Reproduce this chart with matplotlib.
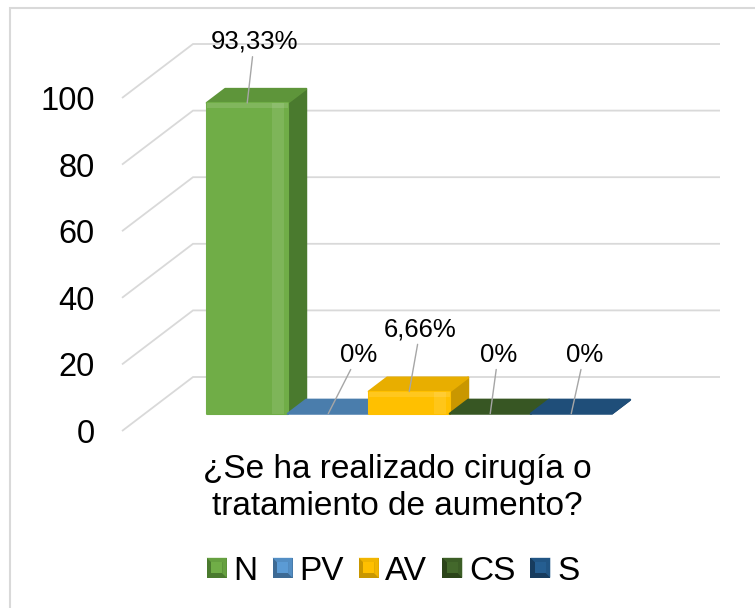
import matplotlib
matplotlib.use("Agg")
import matplotlib.pyplot as plt
from matplotlib.patches import Polygon, Rectangle, Patch
from matplotlib.legend_handler import HandlerBase

plt.rcParams['font.family'] = ['Liberation Sans', 'DejaVu Sans']

# ---------------- data ----------------
categories = ['N', 'PV', 'AV', 'CS', 'S']
values = [93.33, 0, 6.66, 0, 0]
value_labels = ['93,33%', '0%', '6,66%', '0%', '0%']
yticks = [0, 20, 40, 60, 80, 100]
title = '¿Se ha realizado cirugía o\ntratamiento de aumento?'

# ---------------- styles ----------------
front_colors = ['#70AD47', '#5B9BD5', '#FFC000', '#43682B', '#255E91']
top_colors = ['#5E953A', '#4A7DAC', '#E8AE00', '#375623', '#1F4E79']
side_colors = ['#4A7A2E', '#3D6A94', '#C99700', '#2B4419', '#173C5E']
label_offsets_px = [(7, 61), (30, 59), (11, 62), (8, 59), (13, 59)]
grid_color = '#D9D9D9'

W, H = 755, 608
fig = plt.figure(figsize=(W / 100, H / 100), dpi=100)
fig.patch.set_facecolor('white')

# layout of the front plane (pixels)
L_px, Y0_px, R_px = 122, 431, 720
scale = 3.33          # px per value unit
bar_w_px = 81         # px per category
bar_start_px = 184
DX = 71 / bar_w_px    # depth shift in x (data units)
DY = 54 / scale       # depth shift in y (data units)
d0, d1 = 0.32, 0.58   # bar depth range

ax = fig.add_axes([L_px / W, 1 - Y0_px / H, (R_px - L_px) / W, 100 * scale / H])
ax.set_xlim(-(bar_start_px - L_px) / bar_w_px, (R_px - bar_start_px) / bar_w_px)
ax.set_ylim(0, 100)
for sp in ax.spines.values():
    sp.set_visible(False)
ax.set_xticks([])
ax.set_yticks(yticks)
ax.set_yticklabels([str(t) for t in yticks])
ax.tick_params(axis='y', length=0, pad=19.5, labelsize=23.5, labelcolor='black')
ax.patch.set_alpha(0)

xmin, xmax = ax.get_xlim()

# gridlines (floor-to-back-wall)
for v in yticks:
    ax.plot([xmin, xmin + DX, xmax], [v, v + DY, v + DY], color=grid_color,
            lw=1.3, clip_on=False, zorder=1, solid_capstyle='butt',
            solid_joinstyle='miter')

# bars
ox = (d1 - d0) * DX
oy = (d1 - d0) * DY
b0 = d0 * DY
for i, v in enumerate(values):
    x0 = i + d0 * DX
    x1 = i + 1 + d0 * DX
    z = 3 + i * 3
    kw = dict(clip_on=False, joinstyle='round', lw=1.5)
    side = Polygon([(x1, b0), (x1 + ox, b0 + oy), (x1 + ox, b0 + oy + v), (x1, b0 + v)],
                   closed=True, facecolor=side_colors[i], edgecolor=side_colors[i],
                   zorder=z, **kw)
    top = Polygon([(x0, b0 + v), (x1, b0 + v), (x1 + ox, b0 + oy + v), (x0 + ox, b0 + oy + v)],
                  closed=True, facecolor=top_colors[i], edgecolor=top_colors[i],
                  zorder=z + 1, **kw)
    ax.add_patch(side)
    ax.add_patch(top)
    if v > 0:
        front = Polygon([(x0, b0), (x1, b0), (x1, b0 + v), (x0, b0 + v)],
                        closed=True, facecolor=front_colors[i], edgecolor=front_colors[i],
                        zorder=z + 2, **kw)
        ax.add_patch(front)
        # bevel highlights
        ax.add_patch(Rectangle((x0 + 0.80, b0), 0.15, v, facecolor='white', alpha=0.10,
                               edgecolor='none', zorder=z + 2.5, clip_on=False))
        ax.add_patch(Rectangle((x0, b0 + v - min(1.5, v * 0.3)), 1.0, min(1.5, v * 0.3),
                               facecolor='white', alpha=0.12, edgecolor='none',
                               zorder=z + 2.5, clip_on=False))

# data labels with leader lines
for i, (v, lab) in enumerate(zip(values, value_labels)):
    dx, dy = label_offsets_px[i]
    ax.annotate(lab, xy=(i + 0.5 + d0 * DX, v + b0), xycoords='data',
                xytext=(dx * 0.72, dy * 0.72), textcoords='offset points',
                ha='center', va='center', fontsize=18.5, color='black',
                annotation_clip=False, zorder=40,
                arrowprops=dict(arrowstyle='-', color='#A6A6A6', lw=1.0,
                                shrinkA=0, shrinkB=0))

# title (category axis label)
fig.text(397 / W, 1 - 488 / H, title, ha='center', va='center', fontsize=24,
         linespacing=1.25, color='black')


# legend with bevelled squares
class BevelHandler(HandlerBase):
    def create_artists(self, legend, orig_handle, xdescent, ydescent, width, height,
                       fontsize, trans):
        s = min(width, height)
        x0 = -xdescent + (width - s) / 2
        y0 = -ydescent + (height - s) / 2
        fc = orig_handle.get_facecolor()
        ec = orig_handle.get_edgecolor()
        inset = s * 0.22
        outer = Rectangle((x0, y0), s, s, facecolor=ec, edgecolor='none', transform=trans)
        bevel = Polygon([(x0, y0 + s), (x0 + s, y0 + s), (x0 + s, y0),
                         (x0 + s - inset, y0 + inset), (x0 + s - inset, y0 + s - inset),
                         (x0 + inset, y0 + s - inset)], closed=True,
                        facecolor=fc, edgecolor='none', alpha=0.75, transform=trans)
        inner = Rectangle((x0 + inset, y0 + inset), s - 2 * inset, s - 2 * inset,
                          facecolor=fc, edgecolor='none', transform=trans)
        return [outer, bevel, inner]


handles = [Patch(facecolor=front_colors[i], edgecolor=side_colors[i], label=c)
           for i, c in enumerate(categories)]
fig.legend(handles=handles, labels=categories, loc='center',
           bbox_to_anchor=(393 / W, 1 - 571 / H), ncol=5, frameon=False,
           fontsize=24, handlelength=0.6, handleheight=0.6, handletextpad=0.2,
           columnspacing=0.45, borderpad=0,
           handler_map={Patch: BevelHandler()})

# chart-area border (left and top edges visible)
fig.patches.append(Rectangle((10 / W, -0.1), 2.0, (1 - 8 / H) + 0.1,
                             transform=fig.transFigure, fill=False,
                             edgecolor='#D9D9D9', lw=1.5))

fig.savefig('out.png', dpi=100, facecolor='white')
